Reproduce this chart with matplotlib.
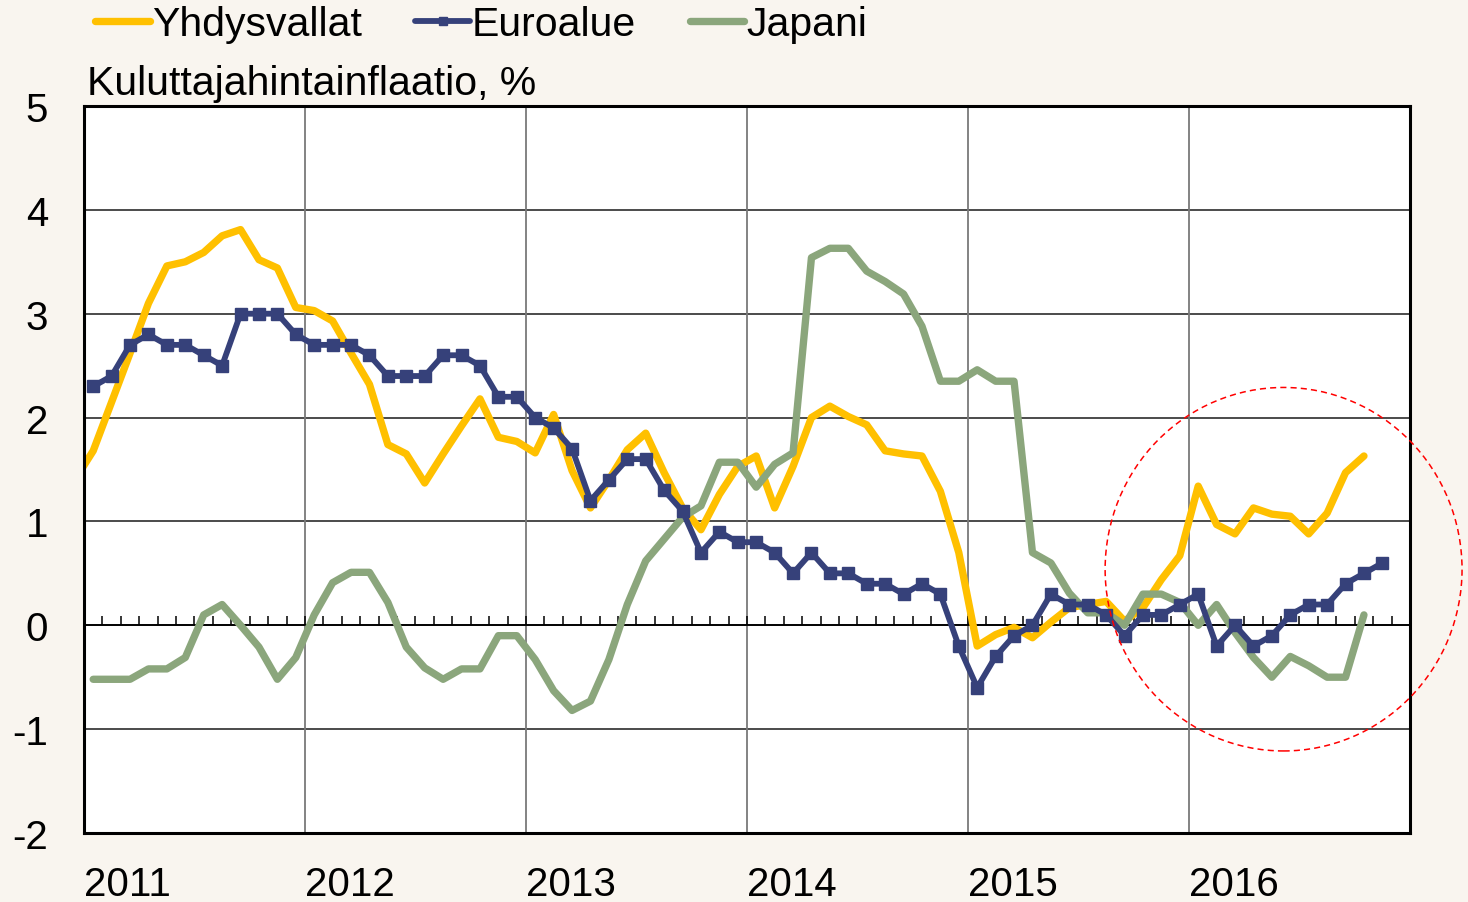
import matplotlib
matplotlib.use("Agg")
import matplotlib.pyplot as plt
from matplotlib.patches import Ellipse
import numpy as np

plt.rcParams['font.family'] = ['Liberation Sans', 'DejaVu Sans']
plt.rcParams['axes.unicode_minus'] = False

# year labels on the x axis
years = [2011, 2012, 2013, 2014, 2015, 2016]

# monthly consumer price inflation, %
us_start = (2010, 12)
us = [1.40,
      1.68, 2.15, 2.62, 3.10, 3.46, 3.50, 3.59, 3.75, 3.81, 3.52, 3.44, 3.06,
      3.03, 2.93, 2.62, 2.32, 1.74, 1.65, 1.37, 1.65, 1.92, 2.18, 1.81, 1.77,
      1.66, 2.03, 1.49, 1.13, 1.40, 1.69, 1.85, 1.47, 1.13, 0.92, 1.26, 1.53,
      1.63, 1.13, 1.53, 2.00, 2.11, 2.01, 1.93, 1.68, 1.65, 1.63, 1.29, 0.70,
      -0.20, -0.09, -0.02, -0.12, 0.03, 0.17, 0.20, 0.23, 0.04, 0.17, 0.44, 0.67,
      1.34, 0.97, 0.88, 1.13, 1.07, 1.05, 0.88, 1.08, 1.47, 1.63]

euro_start = (2011, 1)
euro = [2.3, 2.4, 2.7, 2.8, 2.7, 2.7, 2.6, 2.5, 3.0, 3.0, 3.0, 2.8,
        2.7, 2.7, 2.7, 2.6, 2.4, 2.4, 2.4, 2.6, 2.6, 2.5, 2.2, 2.2,
        2.0, 1.9, 1.7, 1.2, 1.4, 1.6, 1.6, 1.3, 1.1, 0.7, 0.9, 0.8,
        0.8, 0.7, 0.5, 0.7, 0.5, 0.5, 0.4, 0.4, 0.3, 0.4, 0.3, -0.2,
        -0.6, -0.3, -0.1, 0.0, 0.3, 0.2, 0.2, 0.1, -0.1, 0.1, 0.1, 0.2,
        0.3, -0.2, 0.0, -0.2, -0.1, 0.1, 0.2, 0.2, 0.4, 0.5, 0.6]

japan_start = (2011, 1)
japan = [-0.52, -0.52, -0.52, -0.42, -0.42, -0.31, 0.10, 0.20, 0.00, -0.21, -0.52, -0.31,
         0.10, 0.41, 0.51, 0.51, 0.22, -0.21, -0.41, -0.52, -0.42, -0.42, -0.10, -0.10,
         -0.33, -0.63, -0.82, -0.73, -0.33, 0.20, 0.62, 0.83, 1.04, 1.15, 1.57, 1.57,
         1.33, 1.55, 1.66, 3.54, 3.63, 3.63, 3.41, 3.31, 3.19, 2.88, 2.35, 2.35,
         2.46, 2.35, 2.35, 0.70, 0.60, 0.31, 0.12, 0.12, 0.00, 0.30, 0.30, 0.22,
         0.00, 0.20, -0.07, -0.31, -0.50, -0.30, -0.39, -0.50, -0.50, 0.10]

labels = ['Yhdysvallat', 'Euroalue', 'Japani']
colors = ['#FFC000', '#36417A', '#8BA67C']


def month_pos(start, n):
    y0, m0 = start
    k = np.arange(n) + (y0 - 2011) * 12 + (m0 - 1)
    return 2011 + (k + 0.5) / 12


bg = '#F9F5EF'
fig = plt.figure(figsize=(14.68, 9.03), dpi=100, facecolor=bg)
ax = fig.add_axes([84 / 1468, 1 - 834 / 903, 1326 / 1468, 727 / 903])
ax.set_facecolor('white')

ax.plot(month_pos(us_start, len(us)), us, color=colors[0], lw=5.3,
        solid_capstyle='round', solid_joinstyle='round', zorder=3, label=labels[0])
ax.plot(month_pos(euro_start, len(euro)), euro, color=colors[1], lw=4.2,
        marker='s', markersize=8, solid_joinstyle='round', solid_capstyle='round',
        zorder=5, label=labels[1])
ax.plot(month_pos(japan_start, len(japan)), japan, color=colors[2], lw=5.3,
        solid_capstyle='round', solid_joinstyle='round', zorder=4, label=labels[2])

ax.set_xlim(2011, 2017)
ax.set_ylim(-2, 5)

# grid
ax.set_yticks(range(-2, 6))
ax.set_xticks(years)
ax.set_xticklabels([str(y) for y in years], ha='left')
for y in range(-1, 5):
    ax.axhline(y, color='#1a1a1a', lw=1.1, zorder=1)
for x in years[1:]:
    ax.axvline(x, color='#7a7a7a', lw=1.3, zorder=1)

# zero axis with monthly ticks
ax.axhline(0, color='black', lw=1.3, zorder=2)
month_edges = np.arange(2011, 2017 + 1e-9, 1 / 12)
ax.vlines(month_edges, 0, 0.085, color='black', lw=1.1, zorder=2)

ax.tick_params(axis='both', length=0, labelsize=29)
ax.tick_params(axis='y', pad=26)
ax.tick_params(axis='x', pad=23)
for s in ax.spines.values():
    s.set_linewidth(2.2)
    s.set_color('black')
    s.set_zorder(6)

# highlight circle
ell = Ellipse((2016.428, 0.54), 1.615, 3.50, fill=False, ec='#FF0000',
              lw=1.1, ls=(0, (4, 2.7)), clip_on=False, zorder=7)
ax.add_patch(ell)

fig.text(87 / 1468, 1 - 95 / 903, 'Kuluttajahintainflaatio, %', fontsize=29.5,
         ha='left', va='baseline')

leg = fig.legend(loc='center left', bbox_to_anchor=(95 / 1468, 1 - 25 / 903),
                 ncol=3, frameon=False, fontsize=29.5, handlelength=1.34,
                 handletextpad=0.05, columnspacing=1.3, borderpad=0,
                 borderaxespad=0, numpoints=1, markerscale=0.8)

fig.savefig('out.png', dpi=100, facecolor=bg)
